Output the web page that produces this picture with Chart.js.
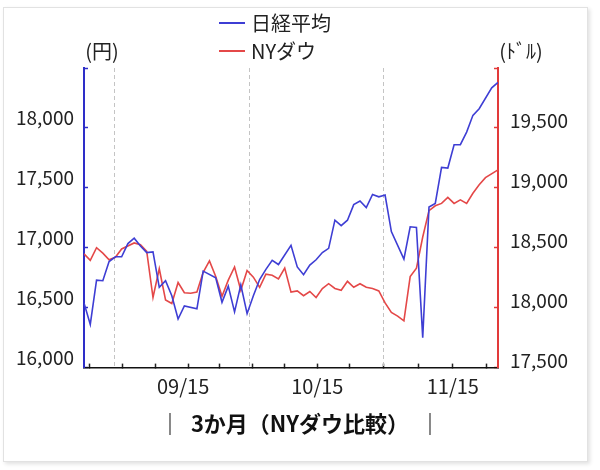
<!DOCTYPE html>
<html>
<head>
<meta charset="utf-8">
<script src="https://cdn.jsdelivr.net/npm/chart.js@4.4.0/dist/chart.umd.min.js"></script>
<style>
  body { margin: 0; background: #fff; }
  #frame { position: absolute; left: 3px; top: 7px; width: 583px; height: 453px;
           border: 1px solid #e2e2e2; box-shadow: 2px 2px 4px rgba(0,0,0,0.12); }
  #c { position: absolute; left: 0; top: 0; }
</style>
</head>
<body>
<div id="frame"></div>
<canvas id="c" width="600" height="470"></canvas>
<script>
// trading days (both markets), 2016/08/25 - 2016/11/25
var dates = ['08/25','08/26','08/29','08/30','08/31',
    '09/01','09/02','09/05','09/06','09/07','09/08','09/09','09/12','09/13','09/14','09/15','09/16',
    '09/19','09/20','09/21','09/22','09/23','09/26','09/27','09/28','09/29','09/30',
    '10/03','10/04','10/05','10/06','10/07','10/10','10/11','10/12','10/13','10/14','10/17','10/18',
    '10/19','10/20','10/21','10/24','10/25','10/26','10/27','10/28','10/31',
    '11/01','11/02','11/03','11/04','11/07','11/08','11/09','11/10','11/11','11/14','11/15','11/16',
    '11/17','11/18','11/21','11/22','11/23','11/24','11/25'];

// null = market holiday
var nikkei = [16540, 16360, 16730, 16725, 16885,
    16925, 16925, 17035, 17080, 17015, 16960, 16965, 16670, 16725, 16600, 16405, 16515,
    null, 16490, 16805, null, 16750, 16545, 16680, 16465, 16690, 16450,
    16600, 16735, 16820, 16895, 16860, null, 17020, 16840, 16775, 16855, 16900, 16960,
    16995, 17230, 17185, 17230, 17360, 17390, 17335, 17445, 17425,
    17440, 17135, null, 16905, 17175, 17170, 16250, 17340, 17370, 17670, 17665, 17860,
    17860, 17965, 18105, 18160, null, 18335, 18380];

var nydow = [18450, 18395, 18500, 18455, 18400,
    18420, 18490, null, 18540, 18525, 18470, 18085, 18325, 18065, 18035, 18210, 18125,
    18120, 18130, 18295, 18390, 18260, 18095, 18230, 18340, 18145, 18310,
    18255, 18170, 18280, 18270, 18240, 18330, 18130, 18140, 18100, 18135, 18085, 18160,
    18200, 18160, 18145, 18220, 18170, 18200, 18170, 18160, 18140,
    18040, 17960, 17930, 17890, 18260, 18330, 18590, 18810, 18850, 18870, 18920, 18870,
    18900, 18870, 18955, 19025, 19085, null, 19150];

// x axis marks, in day-index units
var weekTicks = [0.9, 6.1, 11.4, 16.6, 21.6, 26.8, 32.0, 37.2, 42.4, 47.8, 53.3, 58.8, 64.1];
var monthLines = [4.9, 26.4, 47.8];
var labelPos = [15.8, 37.2, 58.8];
var labelText = ['09/15', '10/15', '11/15'];

var yenTicks = [16000, 18500, 500];
var dowTicks = [17500, 20000, 500];

var BLUE = 'rgb(62,62,212)';
var RED = 'rgb(228,72,72)';
var AXBLUE = 'rgb(46,46,200)';
var AXRED = 'rgb(226,58,58)';
var FONT = '"Noto Sans CJK JP", "Noto Sans", sans-serif';

function comma(v) {
    return String(v).replace(/\B(?=(\d{3})+(?!\d))/g, ',');
}

function toPoints(arr) {
    return arr.map(function (v, i) { return {x: i, y: v}; });
}

// legend (two rows) and the unit captions above the axes
var headerText = {
    id: 'headerText',
    afterDraw: function (chart) {
        var ctx = chart.ctx;
        var area = chart.chartArea;
        var cx = (area.left + area.right) / 2;
        ctx.save();
        ctx.font = '20px ' + FONT;
        ctx.textBaseline = 'middle';
        ctx.fillStyle = '#222';
        chart.data.datasets.forEach(function (ds, i) {
            var y = 23 + i * 28;
            var x0 = cx - 72;
            ctx.strokeStyle = ds.borderColor;
            ctx.lineWidth = 2;
            ctx.beginPath();
            ctx.moveTo(x0, y);
            ctx.lineTo(x0 + 26, y);
            ctx.stroke();
            ctx.textAlign = 'left';
            ctx.fillText(ds.label, x0 + 32, y);
        });
        ctx.textAlign = 'center';
        ctx.fillText('(円)', chart.scales.y.right + 18, area.top - 17);
        ctx.fillText('(ﾄﾞﾙ)', chart.scales.y2.left + 23, area.top - 17);
        ctx.restore();
    }
};

var allTicks = [];
weekTicks.forEach(function (v) { allTicks.push({value: v, week: true}); });
monthLines.forEach(function (v) { allTicks.push({value: v, month: true}); });
labelPos.forEach(function (v, i) { allTicks.push({value: v, txt: labelText[i]}); });
allTicks.sort(function (a, b) { return a.value - b.value; });

new Chart(document.getElementById('c'), {
    type: 'line',
    data: {
        labels: dates,
        datasets: [{
            label: '日経平均',
            data: toPoints(nikkei),
            yAxisID: 'y',
            borderColor: BLUE,
            borderWidth: 1.6,
            pointRadius: 0,
            spanGaps: true,
            tension: 0
        }, {
            label: 'NYダウ',
            data: toPoints(nydow),
            yAxisID: 'y2',
            borderColor: RED,
            borderWidth: 1.6,
            pointRadius: 0,
            spanGaps: true,
            tension: 0
        }]
    },
    options: {
        responsive: false,
        animation: false,
        layout: {padding: {top: 68, left: 0, right: 0, bottom: 0}},
        plugins: {
            legend: {display: false},
            tooltip: {enabled: false},
            title: {
                display: true,
                position: 'bottom',
                text: '｜  3か月（NYダウ比較）  ｜',
                color: '#111',
                font: {family: FONT, size: 22, weight: 'bold', lineHeight: 1.2},
                padding: {top: 0, bottom: 33}
            }
        },
        scales: {
            x: {
                type: 'linear',
                min: 0,
                max: dates.length - 1,
                bounds: 'data',
                afterBuildTicks: function (scale) {
                    scale.ticks = allTicks.map(function (t) { return Object.assign({}, t); });
                },
                afterFit: function (scale) { scale.height = 43; },
                grid: {
                    color: function (c) { return c.tick && c.tick.month ? '#c4c4c4' : 'rgba(0,0,0,0)'; },
                    lineWidth: 1,
                    tickLength: -4,
                    tickWidth: 1.5,
                    tickColor: function (c) { return c.tick && c.tick.week ? '#222' : 'rgba(0,0,0,0)'; }
                },
                border: {color: '#111', width: 1.5, dash: [4, 3]},
                ticks: {
                    autoSkip: false,
                    maxRotation: 0,
                    padding: 11,
                    color: '#222',
                    font: {family: FONT, size: 20},
                    callback: function (v, i, ts) { return ts[i].txt || ''; }
                }
            },
            y: {
                position: 'left',
                min: yenTicks[0],
                max: yenTicks[1],
                afterFit: function (scale) { scale.width = 84; },
                grid: {drawOnChartArea: false, tickLength: -4, tickWidth: 1.5, tickColor: AXBLUE},
                border: {color: AXBLUE, width: 2},
                ticks: {
                    stepSize: yenTicks[2],
                    padding: 14,
                    labelOffset: -10,
                    color: '#222',
                    font: {family: FONT, size: 19},
                    callback: function (v) { return v === yenTicks[1] ? '' : comma(v); }
                }
            },
            y2: {
                position: 'right',
                min: dowTicks[0],
                max: dowTicks[1],
                afterFit: function (scale) { scale.width = 102; },
                grid: {drawOnChartArea: false, tickLength: -4, tickWidth: 1.5, tickColor: AXRED},
                border: {color: AXRED, width: 2},
                ticks: {
                    stepSize: dowTicks[2],
                    padding: 16,
                    labelOffset: -7,
                    color: '#222',
                    font: {family: FONT, size: 19},
                    callback: function (v) { return v === dowTicks[1] ? '' : comma(v); }
                }
            }
        }
    },
    plugins: [headerText]
});
</script>
</body>
</html>
